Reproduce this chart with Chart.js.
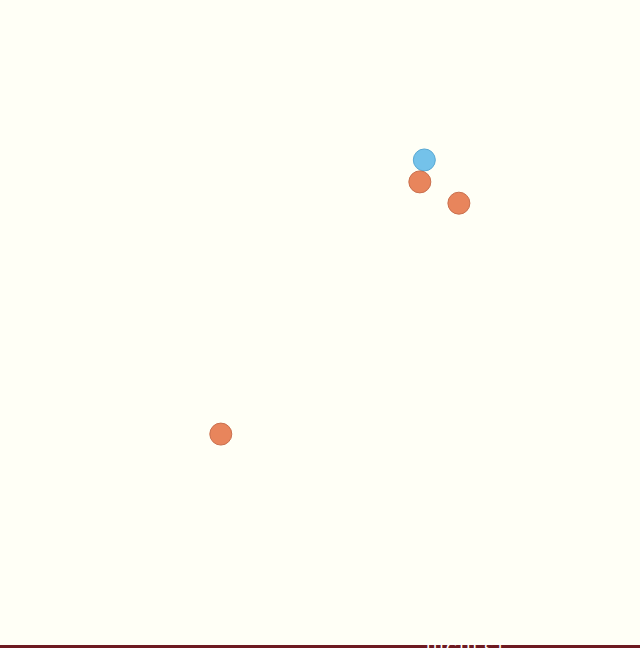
<!DOCTYPE html>
<html>
<head>
<meta charset="utf-8">
<script src="https://cdn.jsdelivr.net/npm/chart.js@4"></script>
<style>
  html, body { margin: 0; padding: 0; background: #fffff6; overflow: hidden; }
  #wrap { position: relative; width: 640px; height: 645px; }
  #footer { width: 640px; height: 40px; background: #6e1a20; color: #ffffff;
            font-family: "DejaVu Sans", sans-serif; font-size: 15px; box-sizing: border-box;
            padding: 0 0 0 426px; line-height: 10px; letter-spacing: 2px; }
</style>
</head>
<body>
<div id="wrap"><canvas id="c" width="640" height="645"></canvas></div>
<div id="footer">HIGHEST</div>
<script>
// Series A (blue)
const seriesAX = [66.3];
const seriesAY = [75.2];
// Series B (orange)
const seriesBX = [65.6, 71.7, 34.5];
const seriesBY = [71.8, 68.5, 32.7];

const toPoints = (xs, ys) => xs.map((x, i) => ({ x: x, y: ys[i] }));

new Chart(document.getElementById('c'), {
  type: 'scatter',
  data: {
    datasets: [
      {
        label: 'B',
        data: toPoints(seriesBX, seriesBY),
        backgroundColor: '#e8855c',
        borderColor: '#c9704e',
        borderWidth: 1,
        pointRadius: 11,
        pointHoverRadius: 11
      },
      {
        label: 'A',
        data: toPoints(seriesAX, seriesAY),
        backgroundColor: '#74c2ea',
        borderColor: '#5aa8d2',
        borderWidth: 1,
        pointRadius: 11,
        pointHoverRadius: 11
      }
    ]
  },
  options: {
    responsive: false,
    animation: false,
    layout: { padding: 0, autoPadding: false },
    plugins: { legend: { display: false }, tooltip: { enabled: false }, title: { display: false } },
    scales: {
      x: { display: false, min: 0, max: 100 },
      y: { display: false, min: 0, max: 100 }
    }
  }
});
</script>
</body>
</html>
